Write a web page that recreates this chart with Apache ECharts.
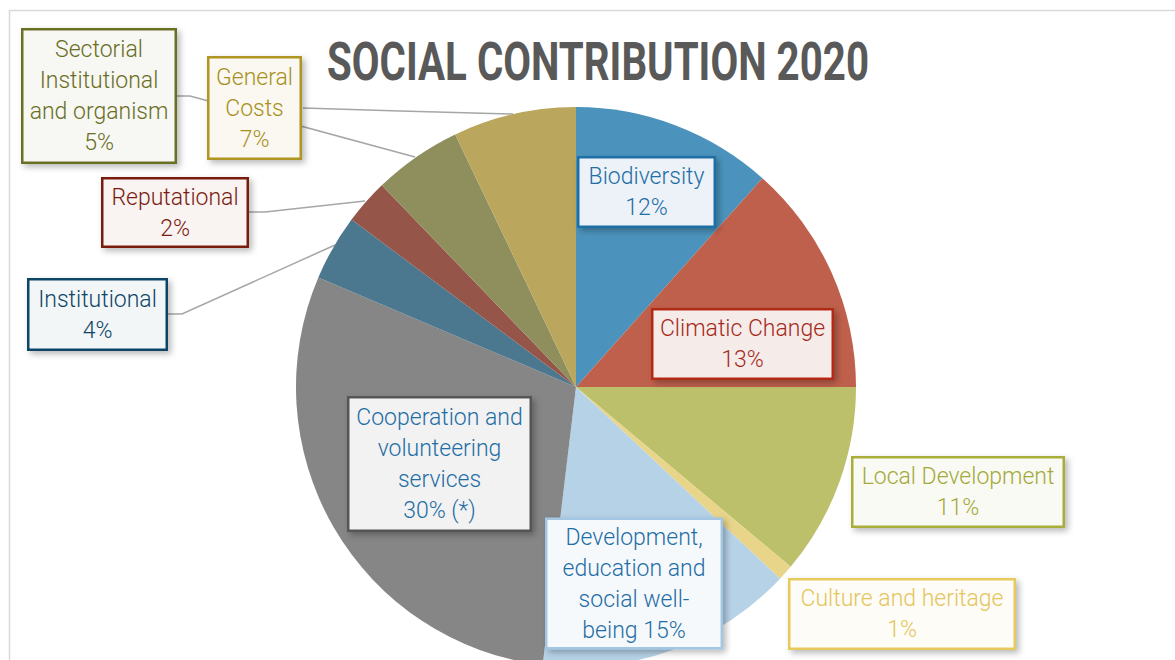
<!DOCTYPE html>
<html><head><meta charset="utf-8">
<script src="https://cdn.jsdelivr.net/npm/echarts@6/dist/echarts.min.js"></script>
<style>html,body{margin:0;padding:0;background:#fff}#c{width:1175px;height:660px}</style>
</head><body><div id="c"></div>
<script>
const titleText = 'SOCIAL CONTRIBUTION 2020';
const categories = ['Biodiversity','Climatic Change','Local Development','Culture and heritage','Development, education and social well-being','Cooperation and volunteering services','Institutional','Reputational','Sectorial Institutional and organism','General Costs'];
const values = [11.6, 13.4, 11.1, 0.9, 14.9, 29.5, 3.8, 2.6, 5.1, 7.1];
const labelTexts = [
  'Biodiversity\n12%',
  'Climatic Change\n13%',
  'Local Development\n11%',
  'Culture and heritage\n1%',
  'Development,\neducation and\nsocial well-\nbeing 15%',
  'Cooperation and\nvolunteering\nservices\n30% (*)',
  'Institutional\n4%',
  'Reputational\n2%',
  'Sectorial\nInstitutional\nand organism\n5%',
  'General\nCosts\n7%'
];

// styling / layout (not data)
const sliceColors = ['#4B93BD','#BF604C','#BCC06A','#E8D58A','#B6D2E7','#868686','#4B778F','#955649','#8E8F5D','#BAA65D'];
const textColors  = ['#1F6EA5','#A52A1B','#A3A93A','#E4C55C','#1F6EA5','#1F6EA5','#0E4566','#7A1C10','#6A6E1F','#A8901F'];
const borderColors= ['#1D6FA6','#B22B17','#A8AE37','#E7CA5C','#A3C6E3','#555555','#0E4566','#7A1C10','#6B7021','#AF9521'];
const bgColors    = ['#EDF2F8','#F5ECEA','#FAFAF5','#FEFCF7','#F6F9FC','#F2F2F2','#F3F6F7','#F9F3F2','#F7F7F3','#FAF8F0'];
const boxes = [ // cx, cy, w, h
  [646.5,192,139,72],[742.5,344,183,72],[958,492,214,72],[902,614,228,72],
  [634,583.5,178,131],[439.5,464,185,136],[97.5,314.5,141,73],[175,212.5,148,71],
  [99,96,156,136],[254.5,108,95,104]
];
const linePts = {
  6: [[335,245],[182,314],[168,314]],
  7: [[365,201],[265,212],[249,212]],
  8: [[415,157],[190,96],[177,96]],
  9: [[513,114],[400,111],[303,108]]
};
const LH = 31, BW = 2.5, SHIFT = 2;

const data = categories.map((name, i) => {
  const b = boxes[i];
  const nLines = labelTexts[i].split('\n').length;
  const pv = Math.max(0, (b[3] - BW * 2 - nLines * LH) / 2);
  return {
    name, value: values[i],
    itemStyle: { color: sliceColors[i] },
    label: {
      formatter: labelTexts[i],
      color: textColors[i],
      borderColor: borderColors[i],
      backgroundColor: bgColors[i],
      width: b[2] - BW * 2,
      padding: [pv + SHIFT, 0, Math.max(0, pv - SHIFT), 0]
    },
    labelLine: { show: !!linePts[i] }
  };
});

const chart = echarts.init(document.getElementById('c'), null, { renderer: 'svg' });
chart.setOption({
  backgroundColor: '#ffffff',
  animation: false,
  graphic: [
    { type: 'rect', z: 0, shape: { x: 9.5, y: 10.5, width: 1200, height: 700 }, style: { fill: 'none', stroke: '#D9D9D9', lineWidth: 1.5 } },
    { type: 'text', z: 10, x: 598, y: 61, scaleX: 0.76, style: { text: titleText, fill: '#595959', font: 'bold 53px Roboto', textAlign: 'center', textVerticalAlign: 'middle' } }
  ],
  series: [{
    type: 'pie',
    center: [576, 387],
    radius: [0, 280],
    startAngle: 90,
    clockwise: true,
    avoidLabelOverlap: false,
    minShowLabelAngle: 0,
    data,
    label: {
      show: true,
      position: 'outside',
      fontFamily: 'Roboto, sans-serif',
      fontWeight: 300,
      fontSize: 23,
      lineHeight: LH,
      align: 'center',
      overflow: 'none',
      borderWidth: BW,
      borderRadius: 0,
      shadowColor: 'rgba(0,0,0,0.28)',
      shadowBlur: 6,
      shadowOffsetX: 3,
      shadowOffsetY: 3
    },
    labelLine: { lineStyle: { color: '#A6A6A6', width: 1.5 } },
    labelLayout: function (p) {
      const b = boxes[p.dataIndex];
      const r = { x: b[0], y: b[1], align: 'center', verticalAlign: 'middle' };
      if (linePts[p.dataIndex]) r.labelLinePoints = linePts[p.dataIndex];
      return r;
    },
    emphasis: { disabled: true }
  }]
});
</script></body></html>
